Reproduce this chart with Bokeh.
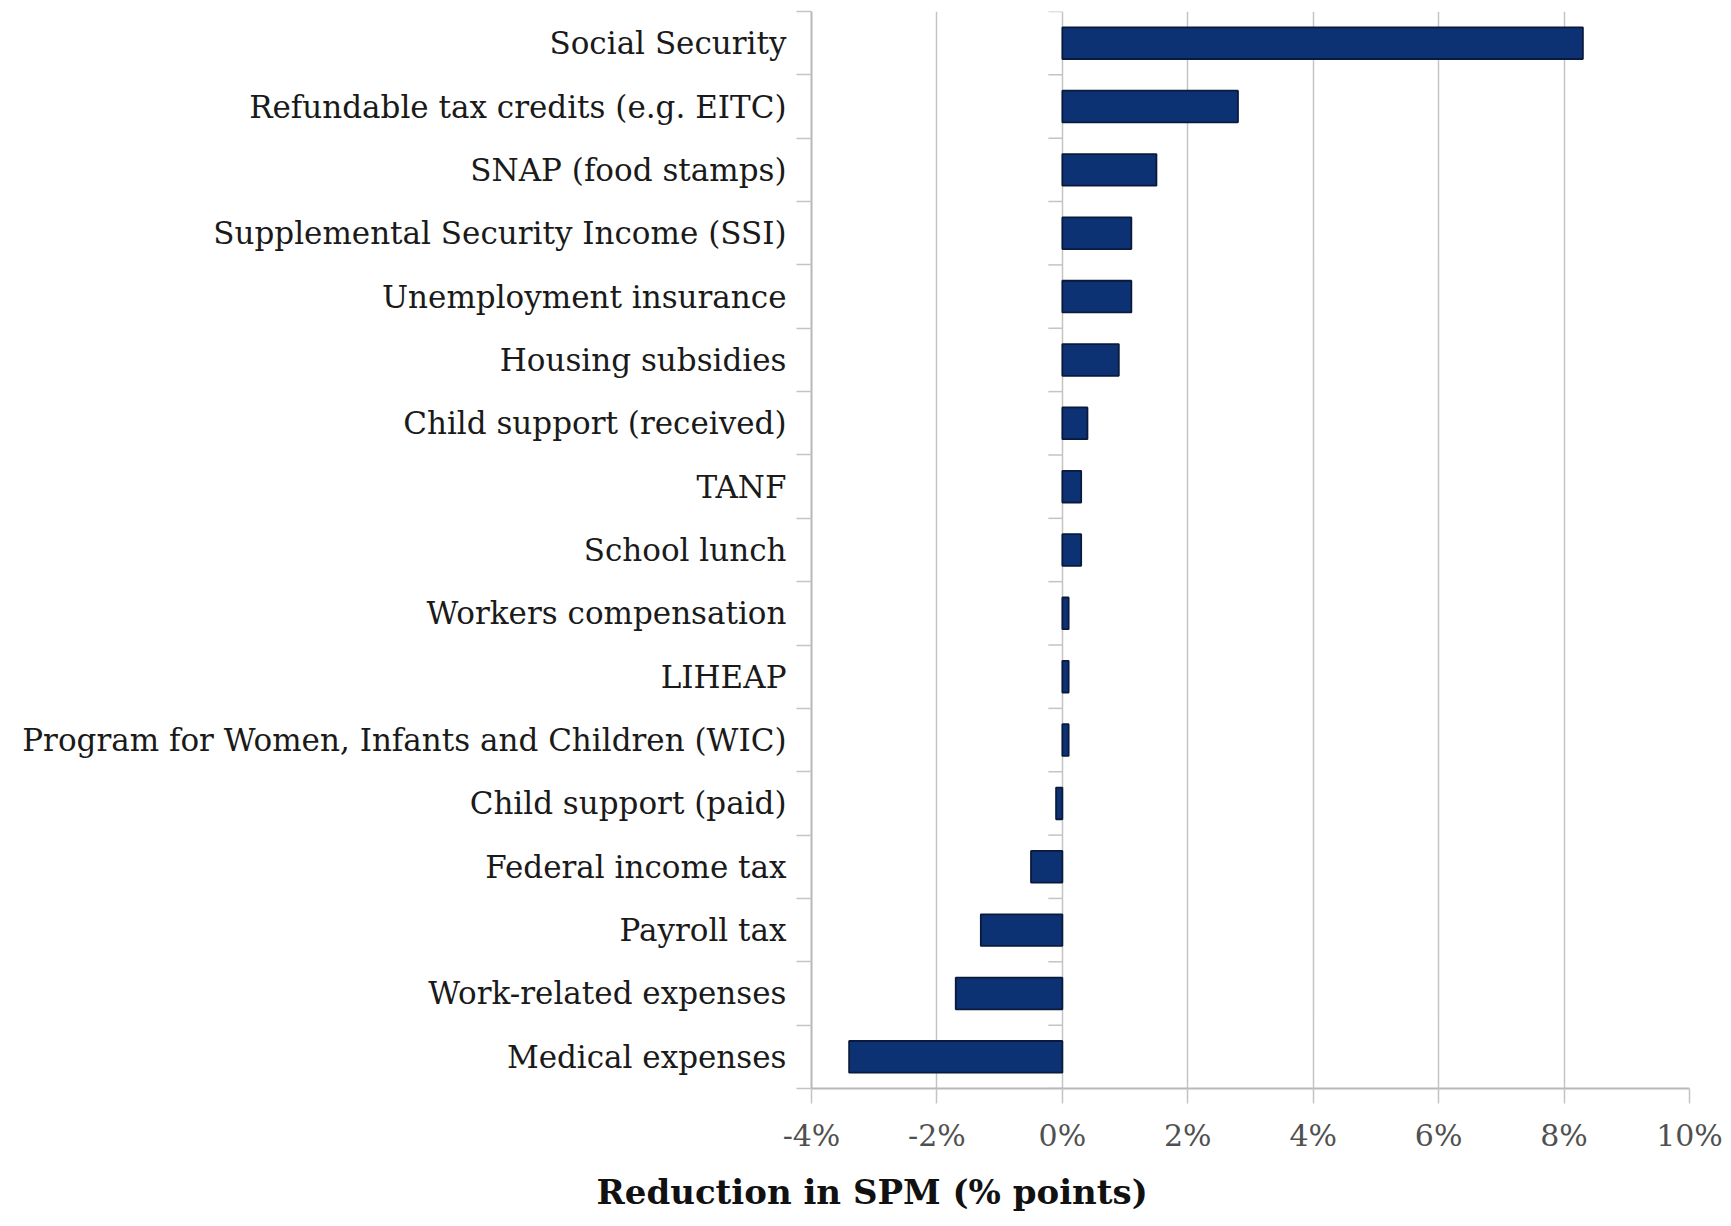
from bokeh.plotting import figure
from bokeh.models import Range1d, FixedTicker, PrintfTickFormatter, Title
from bokeh.embed import file_html
from bokeh.resources import INLINE

categories = [
    "Social Security",
    "Refundable tax credits (e.g. EITC)",
    "SNAP (food stamps)",
    "Supplemental Security Income (SSI)",
    "Unemployment insurance",
    "Housing subsidies",
    "Child support (received)",
    "TANF",
    "School lunch",
    "Workers compensation",
    "LIHEAP",
    "Program for Women, Infants and Children (WIC)",
    "Child support (paid)",
    "Federal income tax",
    "Payroll tax",
    "Work-related expenses",
    "Medical expenses",
]
values = [8.3, 2.8, 1.5, 1.1, 1.1, 0.9, 0.4, 0.3, 0.3, 0.1, 0.1, 0.1, -0.1, -0.5, -1.3, -1.7, -3.4]
x_ticks = [-4, -2, 0, 2, 4, 6, 8, 10]
x_title = "Reduction in SPM (% points)"

n = len(categories)
centers = [i + 0.5 for i in range(n)]
bounds = list(range(n + 1))

FONT = "DejaVu Serif"
GRID = "#c4c4c4"

p = figure(width=1731, height=1226, output_backend="svg", toolbar_location=None,
           x_range=Range1d(x_ticks[0], x_ticks[-1]), y_range=Range1d(n, 0),
           min_border_left=811, min_border_right=42, min_border_top=11, min_border_bottom=138)
p.outline_line_color = None
p.background_fill_color = "white"
p.border_fill_color = "white"

p.hbar(y=centers, left=0, right=values, height=0.5,
       fill_color="#0c3274", line_color="#0a1a3c", line_width=1.8)

# small boundary ticks at the zero line
p.ray(x=[0] * len(bounds), y=bounds, length=14, angle=3.14159265, length_units="screen",
      line_color=GRID, line_width=1.5)

# y axis
p.yaxis.ticker = FixedTicker(ticks=centers, minor_ticks=bounds)
p.yaxis.major_label_overrides = {c: cat for c, cat in zip(centers, categories)}
p.yaxis.major_tick_line_color = None
p.yaxis.major_tick_out = 0
p.yaxis.major_tick_in = 0
p.yaxis.minor_tick_out = 15
p.yaxis.minor_tick_in = 0
p.yaxis.minor_tick_line_color = GRID
p.yaxis.minor_tick_line_width = 1.5
p.yaxis.axis_line_color = "#b8b8b8"
p.yaxis.axis_line_width = 2
p.yaxis.major_label_standoff = 10
p.yaxis.major_label_text_font = FONT
p.yaxis.major_label_text_font_size = "31px"
p.yaxis.major_label_text_color = "#1a1a1a"

# x axis
p.xaxis.ticker = FixedTicker(ticks=x_ticks)
p.xaxis.formatter = PrintfTickFormatter(format="%d%%")
p.xaxis.axis_line_color = "#b8b8b8"
p.xaxis.axis_line_width = 2
p.xaxis.major_tick_line_color = GRID
p.xaxis.major_tick_line_width = 1.5
p.xaxis.major_tick_out = 15
p.xaxis.major_tick_in = 0
p.xaxis.minor_tick_line_color = None
p.xaxis.major_label_standoff = 14
p.xaxis.major_label_text_font = FONT
p.xaxis.major_label_text_font_size = "30px"
p.xaxis.major_label_text_color = "#505050"

p.xgrid.ticker = FixedTicker(ticks=x_ticks)
p.xgrid.grid_line_color = GRID
p.xgrid.grid_line_width = 1.5
p.ygrid.grid_line_color = None

p.add_layout(Title(text=x_title, align="left", offset=-215, standoff=28,
                   text_font=FONT, text_font_style="bold", text_font_size="34px",
                   text_color="#111111"), "below")

open("out.html", "w").write(file_html(p, INLINE))
